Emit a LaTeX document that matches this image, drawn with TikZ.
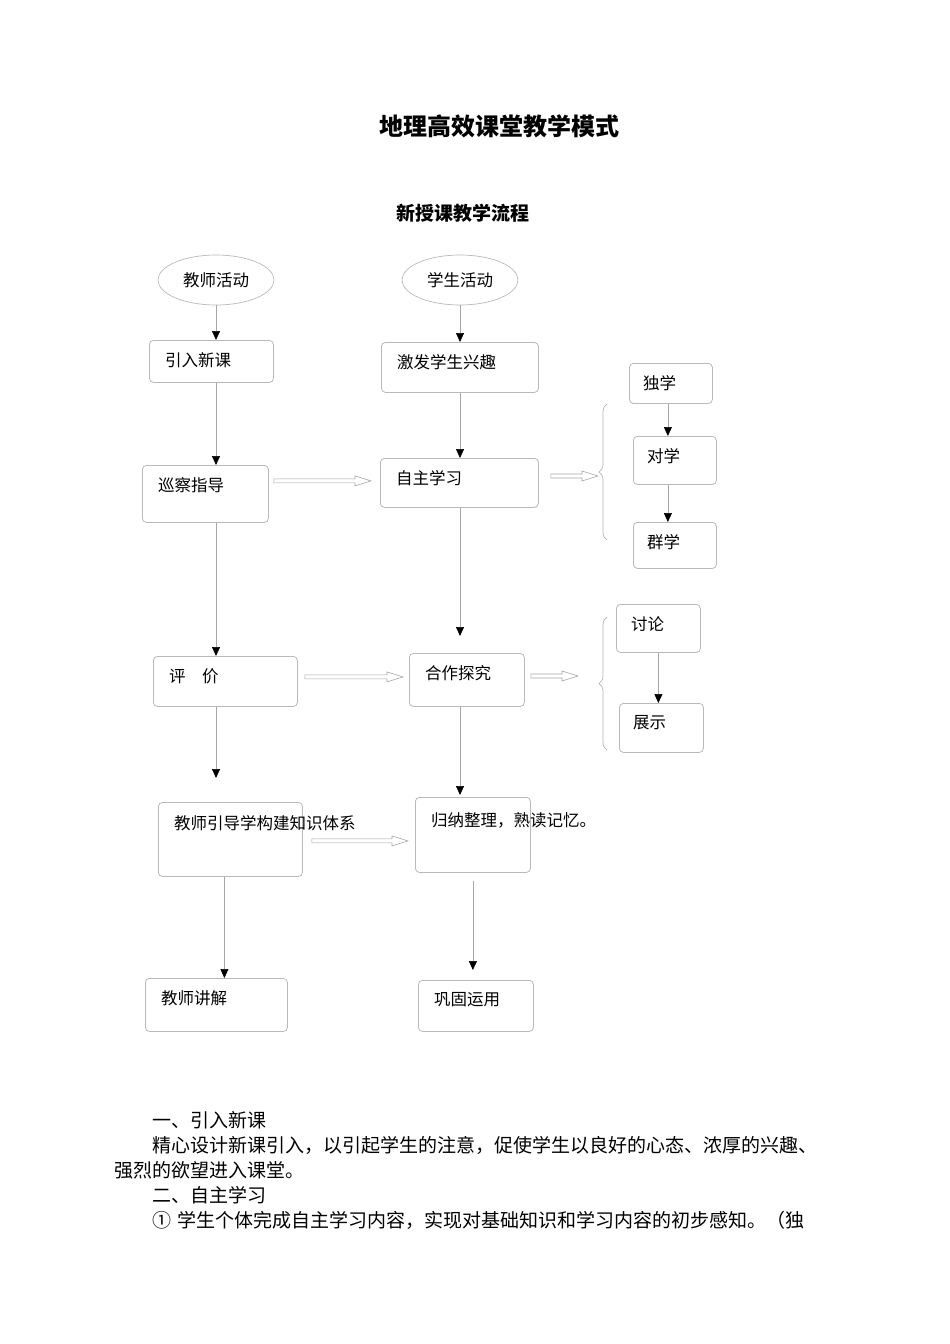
\documentclass[tikz,border=0pt]{standalone}
\usepackage{fontspec}
\setmainfont{Noto Sans CJK SC}
\usetikzlibrary{positioning, arrows.meta, calc, shapes.geometric, decorations.pathreplacing}

\newcommand{\hollowarr}[2]{%
	\draw[dblarr] ($#1+(0,2)$) -- ($#2+(-16,2)$) -- ($#2+(-16,5)$) -- #2
		-- ($#2+(-16,-5)$) -- ($#2+(-16,-2)$) -- ($#1+(0,-2)$) -- cycle;}

\begin{document}
\begin{tikzpicture}[x=1pt, y=-1pt,
		every edge/.style = {draw=gray!70, line width=0.7pt,
			-{Triangle[color=black, length=9pt, width=8pt]}},
		bx/.style args = {#1/#2}{%
			rectangle, draw=gray!55, rounded corners=4pt, line width=0.8pt,
			anchor=north west, minimum width=#1, minimum height=#2, inner sep=0pt},
		txt/.style = {anchor=west, inner sep=0pt, xshift=16pt, yshift=-20pt,
			font=\fontsize{16.5}{18}\selectfont},
		oval/.style = {ellipse, draw=gray!55, line width=0.7pt, minimum width=116,
			minimum height=50, font=\fontsize{16.5}{18}\selectfont},
		dblarr/.style = {draw=gray!70, fill=white, line width=0.6pt},
		brc/.style = {draw=gray!60, line width=0.7pt, decorate,
			decoration={brace, amplitude=8pt}},
		para/.style = {anchor=west, inner sep=0pt, font=\fontsize{19}{22}\selectfont}
                    ]
		\useasboundingbox (0,0) rectangle (950,1344);

		\node(title) [font=\fontsize{24}{28}\selectfont\bfseries] at (499,126) {地理高效课堂教学模式};
		\node(sub) [font=\fontsize{19}{22}\selectfont\bfseries] at (463,213) {新授课教学流程};

		\node(ja) [oval] at (216,280) {教师活动};
		\node(xa) [oval] at (460,280) {学生活动};

		\node(yr) [bx=124/42, label={[txt]north west:引入新课}] at (149,340) {};
		\node(jf) [bx=157/50, label={[txt]north west:激发学生兴趣}] at (381,342) {};
		\node(xc) [bx=126/57, label={[txt]north west:巡察指导}] at (142,465) {};
		\node(zz) [bx=158/49, label={[txt]north west:自主学习}] at (380,458) {};
		\node(ds) [bx=83/40, label={[txt, xshift=-2pt]north west:独学}] at (629,363) {};
		\node(dx) [bx=83/48, label={[txt, xshift=-2pt]north west:对学}] at (633,436) {};
		\node(qx) [bx=83/46, label={[txt, xshift=-2pt]north west:群学}] at (633,522) {};
		\node(pj) [bx=144/50, label={[txt]north west:评　价}] at (153,656) {};
		\node(hz) [bx=115/53, label={[txt]north west:合作探究}] at (409,653) {};
		\node(tl) [bx=84/48, label={[txt, xshift=-1pt]north west:讨论}] at (616,604) {};
		\node(zs) [bx=84/49, label={[txt, xshift=-2pt]north west:展示}] at (619,703) {};
		\node(jg) [bx=144/74, label={[txt, yshift=-1pt]north west:教师引导学构建知识体系}] at (158,802) {};
		\node(gn) [bx=115/75, label={[txt, yshift=-3pt]north west:归纳整理，熟读记忆。}] at (415,797) {};
		\node(js) [bx=142/53, label={[txt]north west:教师讲解}] at (145,978) {};
		\node(gg) [bx=115/51, label={[txt]north west:巩固运用}] at (418,980) {};

		\path (ja.south) edge (yr.north -| ja.south);
		\path (xa.south) edge (jf.north -| xa.south);
		\path (yr.south -| ja) edge (xc.north -| ja);
		\path (jf.south -| xa) edge (zz.north -| xa);
		\path (xc.south -| ja) edge (pj.north -| ja);
		\path (zz.south -| xa) edge [shorten >=17pt] (hz.north -| xa);
		\path (pj.south -| ja) edge [shorten >=24pt] (jg.north -| ja);
		\path (hz.south -| xa) edge [shorten >=2pt] (gn.north -| xa);
		\path ($(jg.south)+(-6,0)$) edge ($(js.north)+(8,0)$);
		\path (gn.south) edge [shorten <=8pt, shorten >=10pt] (gg.north -| gn.south);
		\path ($(ds.south)+(-3,0)$) edge ($(dx.north)+(-7,0)$);
		\path ($(dx.south)+(-7,0)$) edge ($(qx.north)+(-7,0)$);
		\path (tl.south) edge (zs.north -| tl.south);

		\draw[brc] (607,540) -- (607,404);
		\draw[brc] (607,750) -- (607,617);
		\coordinate (br1) at (598,476);
		\coordinate (br2) at (578,676);

		\coordinate (a1s) at ($(xc.east |- zz.west)+(5,-2)$);
		\coordinate (a1e) at ($(zz.west)+(-9,-2)$);
		\coordinate (a2s) at ($(pj.east |- hz.west)+(7,-3)$);
		\coordinate (a2e) at ($(hz.west)+(-6,-3)$);
		\coordinate (a3s) at ($(jg.east |- gn.west)+(9,6)$);
		\coordinate (a3e) at ($(gn.west)+(-7,6)$);
		\coordinate (a4s) at (zz.east |- br1);
		\coordinate (a5s) at (hz.east |- br2);
		\hollowarr{(a1s)}{(a1e)}
		\hollowarr{(a2s)}{(a2e)}
		\hollowarr{(a3s)}{(a3e)}
		\hollowarr{($(a4s)+(12,0)$)}{(br1)}
		\hollowarr{($(a5s)+(6,0)$)}{(br2)}

		\node(h1) [para] at (152,1120) {一、引入新课};
		\node(p1) [para] at (152,1145) {精心设计新课引入，以引起学生的注意，促使学生以良好的心态、浓厚的兴趣、};
		\node(p2) [para] at (114,1170) {强烈的欲望进入课堂。};
		\node(h2) [para] at (152,1195) {二、自主学习};
		\node(p3) [para] at (152,1220) {①\hspace{6pt}学生个体完成自主学习内容，实现对基础知识和学习内容的初步感知。（独};
	\end{tikzpicture}
\end{document}
